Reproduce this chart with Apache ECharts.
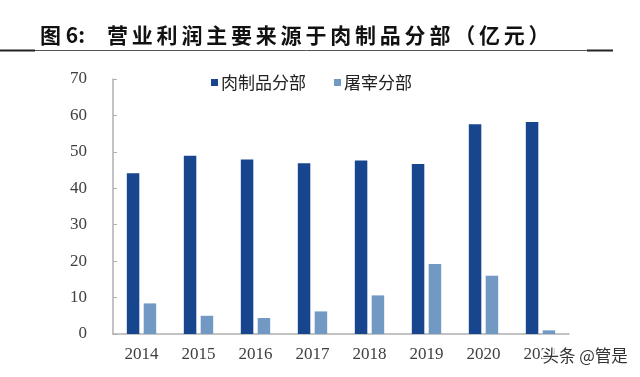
<!DOCTYPE html>
<html>
<head>
<meta charset="utf-8">
<script src="https://cdn.jsdelivr.net/npm/echarts@6/dist/echarts.min.js"></script>
<style>
  html, body { margin: 0; padding: 0; background: #fff; }
  #main { width: 640px; height: 377px; }
</style>
</head>
<body>
<div id="main"></div>
<script>
var years = ['2014', '2015', '2016', '2017', '2018', '2019', '2020', '2021'];
var meatSeg = [44.1, 48.9, 47.9, 46.9, 47.6, 46.7, 57.6, 58.2];
var slaughterSeg = [8.4, 5.0, 4.4, 6.2, 10.6, 19.2, 16.0, 1.0];
var seriesNames = ['肉制品分部', '屠宰分部'];
var titleHead = '图 6:';
var titleBody = '营业利润主要来源于肉制品分部（亿元）';
var watermark = '头条 @管是';

var chart = echarts.init(document.getElementById('main'));

// title: spread the characters like the original layout
var titleParts = [{
  type: 'text', left: 40, top: 25,
  style: { text: titleHead, font: 'bold 21px "Noto Sans CJK SC"', fill: '#111' }
}];
for (var i = 0; i < titleBody.length; i++) {
  titleParts.push({
    type: 'text', left: 107 + i * 24.8, top: 25,
    style: { text: titleBody[i], font: 'bold 21px "Noto Sans CJK SC"', fill: '#111' }
  });
}

var option = {
  animation: false,
  grid: { left: 113, right: 71, top: 79, bottom: 43 },
  legend: {
    left: 206, top: 69,
    itemWidth: 7, itemHeight: 7, itemGap: 28,
    icon: 'rect',
    textStyle: { fontFamily: 'Noto Sans CJK SC', fontSize: 17, color: '#222', padding: [0, 0, 0, -2] },
    data: seriesNames
  },
  xAxis: {
    type: 'category',
    data: years,
    axisLine: { lineStyle: { color: '#b0b0b0', width: 1.5 } },
    axisTick: { inside: true, length: 4, lineStyle: { color: '#b0b0b0' } },
    axisLabel: { fontFamily: 'Liberation Serif', fontSize: 17, color: '#404040', margin: 12 }
  },
  yAxis: {
    type: 'value',
    min: 0, max: 70, interval: 10,
    splitLine: { show: false },
    axisLine: { show: true, lineStyle: { color: '#b0b0b0', width: 1.5 } },
    axisTick: { show: true, inside: true, length: 4, lineStyle: { color: '#b0b0b0' } },
    axisLabel: { fontFamily: 'Liberation Serif', fontSize: 17, color: '#404040', margin: 26 }
  },
  series: [
    { name: seriesNames[0], type: 'bar', data: meatSeg, barWidth: 12.5, barGap: '35%', itemStyle: { color: '#17468e' } },
    { name: seriesNames[1], type: 'bar', data: slaughterSeg, barWidth: 12.5, itemStyle: { color: '#7199c4' } }
  ],
  graphic: titleParts.concat([
    { type: 'line', shape: { x1: 0, y1: 50.5, x2: 613, y2: 50.5 }, style: { stroke: '#555', lineWidth: 1 } },
    { type: 'line', shape: { x1: 0, y1: 50.5, x2: 35, y2: 50.5 }, style: { stroke: '#222', lineWidth: 2 } },
    { type: 'line', shape: { x1: 587, y1: 50.5, x2: 613, y2: 50.5 }, style: { stroke: '#222', lineWidth: 2 } },
    {
      type: 'text', left: 541, top: 346, z: 100,
      style: { text: watermark, font: '16.5px "Noto Sans CJK SC"', fill: '#333', stroke: '#fff', lineWidth: 3 }
    }
  ])
};
chart.setOption(option);
</script>
</body>
</html>
